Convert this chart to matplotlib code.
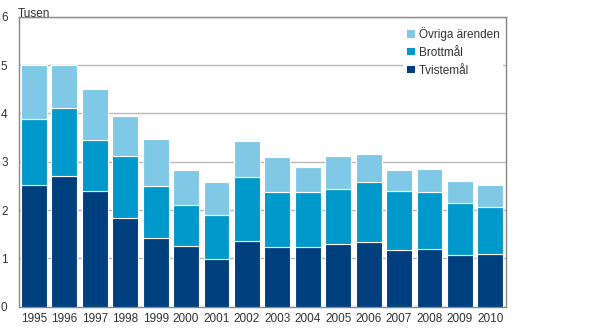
import matplotlib
matplotlib.use("Agg")
import matplotlib.pyplot as plt
from matplotlib.patches import Patch
import numpy as np

plt.rcParams['font.family'] = ['Liberation Sans', 'DejaVu Sans']

years = ['1995', '1996', '1997', '1998', '1999', '2000', '2001', '2002',
         '2003', '2004', '2005', '2006', '2007', '2008', '2009', '2010']
# Thousands of cases per year
tvistemal = [2.51, 2.70, 2.39, 1.83, 1.41, 1.25, 0.98, 1.36,
             1.23, 1.23, 1.29, 1.33, 1.17, 1.19, 1.06, 1.08]
brottmal = [1.38, 1.42, 1.06, 1.29, 1.08, 0.85, 0.91, 1.32,
            1.14, 1.14, 1.15, 1.25, 1.22, 1.18, 1.08, 0.98]
ovriga = [1.11, 0.88, 1.05, 0.82, 0.99, 0.72, 0.70, 0.76,
          0.72, 0.53, 0.67, 0.58, 0.43, 0.49, 0.47, 0.45]

c_tvist = '#003f7d'
c_brott = '#0099cc'
c_ovr = '#80c9e6'

fig = plt.figure(figsize=(5.9, 3.28), dpi=100)
ax = fig.add_axes([0.0317, 0.0655, 0.8253, 0.8827])

x = np.arange(len(years))
w = 0.85
t = np.array(tvistemal)
b = np.array(brottmal)
o = np.array(ovriga)
ax.bar(x, t, w, color=c_tvist, edgecolor='white', linewidth=0.8, zorder=3)
ax.bar(x, b, w, bottom=t, color=c_brott, edgecolor='white', linewidth=0.8, zorder=3)
ax.bar(x, o, w, bottom=t + b, color=c_ovr, edgecolor='white', linewidth=0.8, zorder=3)

ax.set_xlim(-0.5, len(years) - 0.5)
ax.set_ylim(0, 6)
ax.set_yticks(range(7))
ax.set_xticks(x)
ax.set_xticklabels(years)
ax.tick_params(axis='both', length=0, labelsize=8.5, colors='#333333')
ax.tick_params(axis='y', pad=8)
ax.tick_params(axis='x', pad=5)
ax.yaxis.grid(True, color='#bbbbbb', linewidth=1, zorder=0)
ax.set_axisbelow(True)
for s in ax.spines.values():
    s.set_color('#888888')
    s.set_linewidth(1)

fig.text(0.0305, 0.975, 'Tusen', fontsize=8.5, color='#333333', va='top', ha='left')

handles = [Patch(facecolor=c_ovr, label='Övriga ärenden'),
           Patch(facecolor=c_brott, label='Brottmål'),
           Patch(facecolor=c_tvist, label='Tvistemål')]
leg = ax.legend(handles=handles, loc='upper right', bbox_to_anchor=(1.0, 0.985),
                frameon=True, fancybox=False, fontsize=8.5, handlelength=0.75,
                handleheight=0.55, handletextpad=0.3, labelspacing=0.5,
                borderpad=0.3, borderaxespad=0.2)
leg.get_frame().set_edgecolor('none')
leg.get_frame().set_facecolor('white')
leg.get_frame().set_alpha(1)
leg.set_zorder(5)
for txt in leg.get_texts():
    txt.set_color('#333333')

fig.savefig('out.png', dpi=100)
